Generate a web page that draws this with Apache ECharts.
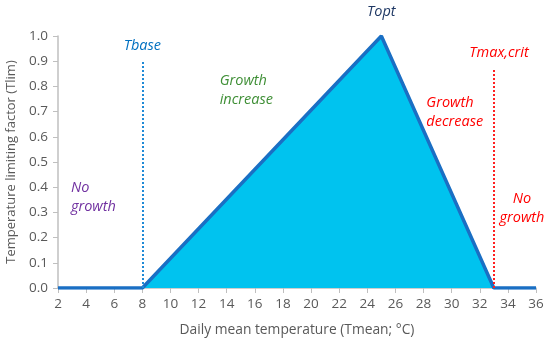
<!DOCTYPE html>
<html><head><meta charset="utf-8">
<script src="https://cdn.jsdelivr.net/npm/echarts@6/dist/echarts.min.js"></script>
<style>html,body{margin:0;padding:0;background:#fff}#c{width:550px;height:343px}</style>
</head><body><div id="c"></div>
<script>
var tempX = [2, 8, 25, 33, 36];
var tlimY = [0, 0, 1, 0, 0];
var xTicks = [2,4,6,8,10,12,14,16,18,20,22,24,26,28,30,32,34,36];
var yTicks = [0,0.1,0.2,0.3,0.4,0.5,0.6,0.7,0.8,0.9,1.0];
var tbaseLine = [[8, 0], [8, 0.9]];
var tmaxLine = [[33, 0], [33, 0.87]];
var notes = [
  {text: 'Tbase', x: 8, y: 0.96, color: '#0070c0', align: 'center'},
  {text: 'Topt', x: 25, y: 1.095, color: '#1f3864', align: 'center'},
  {text: 'Growth\nincrease', x: 13.5, y: 0.784, color: '#3f8f36', align: 'left'},
  {text: 'Growth\ndecrease', x: 28.2, y: 0.696, color: '#ff0000', align: 'left'},
  {text: 'Tmax,crit', x: 33.37, y: 0.933, color: '#ff0000', align: 'center'},
  {text: 'No\ngrowth', x: 2.92, y: 0.359, color: '#7030a0', align: 'left'},
  {text: 'No\ngrowth', x: 35.0, y: 0.315, color: '#ff0000', align: 'center'}
];
var FONT = '"Open Sans", "Liberation Sans", sans-serif';
var chart = echarts.init(document.getElementById('c'));
var option = {
  animation: false,
  grid: {left: 58, right: 14, top: 36, bottom: 55, containLabel: false, outerBoundsMode: 'none'},
  xAxis: {
    type: 'value', min: 2, max: 36, interval: 2,
    name: 'Daily mean temperature (Tmean; °C)', nameLocation: 'middle', nameGap: 35,
    nameTextStyle: {color: '#595959', fontSize: 13.8, fontFamily: FONT},
    axisLine: {lineStyle: {color: '#bfbfbf', width: 1.5}},
    axisTick: {show: true, length: 5, lineStyle: {color: '#bfbfbf'}},
    axisLabel: {color: '#595959', fontSize: 13.5, fontFamily: FONT, margin: 9},
    splitLine: {show: false}
  },
  yAxis: {
    type: 'value', min: 0, max: 1, interval: 0.1,
    name: 'Temperature limiting factor (Tlim)', nameLocation: 'middle', nameGap: 37,
    nameTextStyle: {color: '#595959', fontSize: 13, fontFamily: FONT},
    axisLine: {show: true, lineStyle: {color: '#bfbfbf', width: 1.5}},
    axisTick: {show: true, length: 5, lineStyle: {color: '#bfbfbf'}},
    axisLabel: {color: '#595959', fontSize: 13.5, fontFamily: FONT, margin: 10,
      formatter: function (v) { return v.toFixed(1); }},
    splitLine: {show: false}
  },
  series: [{
    type: 'line',
    data: tempX.map(function (x, i) { return [x, tlimY[i]]; }),
    symbol: 'none',
    lineStyle: {color: '#1a6fc4', width: 3.5},
    areaStyle: {color: '#00c3ef', opacity: 1},
    z: 3,
    markLine: {
      silent: true, symbol: 'none', label: {show: false},
      data: [
        [{coord: tbaseLine[0], lineStyle: {color: '#1f8ad6', type: 'dotted', width: 2}}, {coord: tbaseLine[1]}],
        [{coord: tmaxLine[0], lineStyle: {color: '#ff2020', type: 'dotted', width: 2}}, {coord: tmaxLine[1]}]
      ]
    }
  }]
};
chart.setOption(option);
var g = notes.map(function (n) {
  var p = chart.convertToPixel({gridIndex: 0}, [n.x, n.y]);
  return {
    type: 'text', x: p[0], y: p[1], z: 10,
    style: {text: n.text, fill: n.color, font: 'italic 14.5px ' + FONT,
      align: n.align, verticalAlign: 'middle', lineHeight: 19}
  };
});
chart.setOption({graphic: g});
</script></body></html>
